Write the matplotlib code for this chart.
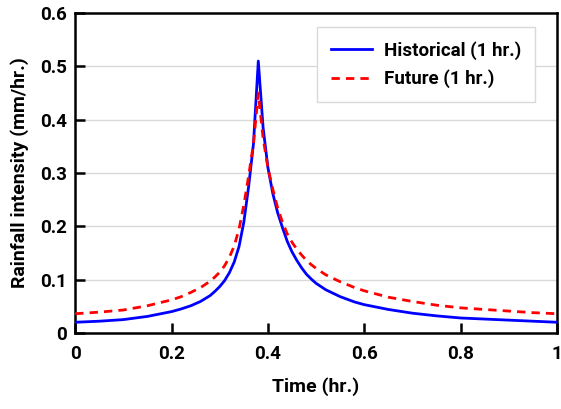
import matplotlib
matplotlib.use("Agg")
import matplotlib.pyplot as plt
from matplotlib.ticker import FuncFormatter

# ── Data ──────────────────────────────────────────────────────────────────────
time_hr = [0, 0.05, 0.1, 0.15, 0.2, 0.22, 0.24, 0.26, 0.28, 0.29, 0.30, 0.31,
           0.32, 0.33, 0.34, 0.35, 0.36, 0.37, 0.38, 0.39, 0.40, 0.41, 0.42,
           0.43, 0.44, 0.45, 0.46, 0.47, 0.48, 0.49, 0.50, 0.52, 0.55, 0.58,
           0.6, 0.65, 0.7, 0.75, 0.8, 0.85, 0.9, 0.95, 1.0]
hist = [0.020, 0.022, 0.025, 0.031, 0.040, 0.045, 0.051, 0.059, 0.070, 0.078,
        0.087, 0.098, 0.113, 0.133, 0.162, 0.208, 0.275, 0.355, 0.510, 0.385,
        0.310, 0.262, 0.226, 0.198, 0.172, 0.152, 0.136, 0.122, 0.110, 0.101,
        0.093, 0.081, 0.068, 0.058, 0.053, 0.044, 0.037, 0.032, 0.028, 0.026,
        0.024, 0.022, 0.020]
fut = [0.036, 0.039, 0.043, 0.051, 0.062, 0.068, 0.076, 0.085, 0.097, 0.105,
       0.114, 0.126, 0.142, 0.163, 0.195, 0.240, 0.295, 0.355, 0.450, 0.365,
       0.310, 0.270, 0.235, 0.208, 0.186, 0.170, 0.157, 0.146, 0.136, 0.128,
       0.121, 0.109, 0.096, 0.085, 0.079, 0.067, 0.059, 0.052, 0.047, 0.044,
       0.041, 0.038, 0.036]

x_ticks = [0, 0.2, 0.4, 0.6, 0.8, 1.0]
y_ticks = [0, 0.1, 0.2, 0.3, 0.4, 0.5, 0.6]

# ── Plot ──────────────────────────────────────────────────────────────────────
plt.rcParams["font.family"] = ["Roboto", "DejaVu Sans"]
plt.rcParams["font.weight"] = "bold"

fig = plt.figure(figsize=(5.61, 4.09), dpi=100)
ax = fig.add_axes([0.134, 0.186, 0.859, 0.782])

ax.grid(axis="y", color="#d9d9d9", linewidth=1.0, zorder=0)
ax.plot(time_hr, hist, color="#0000ff", linewidth=2.0,
        label="Historical (1 hr.)", zorder=3)
ax.plot(time_hr, fut, color="#ff0000", linewidth=2.0, linestyle=(0, (3, 2.2)),
        label="Future (1 hr.)", zorder=4)

ax.set_xlim(0, 1)
ax.set_ylim(0, 0.6)
ax.set_xticks(x_ticks)
ax.set_yticks(y_ticks)
fmt = FuncFormatter(lambda v, p: f"{v:g}")
ax.xaxis.set_major_formatter(fmt)
ax.yaxis.set_major_formatter(fmt)
ax.tick_params(direction="in", length=7, width=1.8, labelsize=13.5,
               colors="black", top=False, right=False)
ax.tick_params(axis="x", pad=9)
ax.tick_params(axis="y", pad=6)
for lab in ax.get_xticklabels() + ax.get_yticklabels():
    lab.set_fontweight("bold")
for sp in ax.spines.values():
    sp.set_linewidth(1.8)
    sp.set_color("black")

ax.set_xlabel("Time (hr.)", fontsize=14, fontweight="bold", labelpad=10)
ax.set_ylabel("Rainfall intensity (mm/hr.)", fontsize=14, fontweight="bold",
              labelpad=8)

leg = ax.legend(loc="upper right", bbox_to_anchor=(0.954, 0.956), fontsize=13.5,
                fancybox=False, framealpha=1, edgecolor="#d9d9d9",
                handlelength=2.2, borderpad=0.75, labelspacing=0.5,
                handletextpad=0.6, borderaxespad=0)
leg.get_frame().set_linewidth(1.0)
for t in leg.get_texts():
    t.set_fontweight("bold")

fig.savefig("out.png", dpi=100)
